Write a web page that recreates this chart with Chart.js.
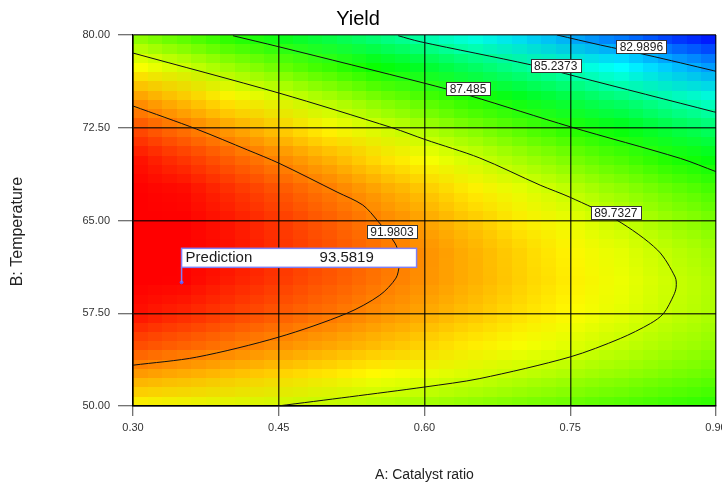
<!DOCTYPE html>
<html>
<head>
<meta charset="utf-8">
<title>Yield</title>
<script src="https://cdn.jsdelivr.net/npm/chart.js@4.4.1/dist/chart.umd.min.js"></script>
<style>
  html, body { margin: 0; padding: 0; background: #fff; }
  #chart { display: block; }
</style>
</head>
<body>
<canvas id="chart" width="722" height="486"></canvas>
<script>
// Model grid axes
const catalystRatio = [0.30, 0.35, 0.40, 0.45, 0.50, 0.55, 0.60, 0.65, 0.70, 0.75, 0.80, 0.85, 0.90];
const temperature = [50, 52.5, 55, 57.5, 60, 62.5, 65, 67.5, 70, 72.5, 75, 77.5, 80];

// Yield, one row per temperature (50 first), columns follow catalystRatio
const yieldRows = [
  [90.36, 90.16, 89.96, 89.75, 89.54, 89.32, 89.10, 88.86, 88.63, 88.39, 88.14, 87.88, 87.63],
  [91.63, 91.39, 91.16, 90.91, 90.66, 90.40, 90.14, 89.87, 89.60, 89.32, 89.04, 88.74, 88.44],
  [92.65, 92.37, 92.10, 91.81, 91.52, 91.23, 90.93, 90.62, 90.31, 90.00, 89.67, 89.34, 89.01],
  [93.41, 93.10, 92.79, 92.46, 92.14, 91.81, 91.47, 91.12, 90.77, 90.42, 90.06, 89.68, 89.32],
  [93.92, 93.57, 93.22, 92.86, 92.49, 92.13, 91.75, 91.36, 90.98, 90.59, 90.19, 89.78, 89.37],
  [94.18, 93.79, 93.40, 93.00, 92.60, 92.19, 91.78, 91.35, 90.93, 90.50, 90.07, 89.62, 89.17],
  [94.18, 93.76, 93.33, 92.89, 92.45, 92.01, 91.56, 91.09, 90.63, 90.16, 89.69, 89.20, 88.72],
  [93.93, 93.47, 93.00, 92.52, 92.05, 91.57, 91.08, 90.57, 90.08, 89.57, 89.06, 88.54, 88.01],
  [93.42, 92.93, 92.42, 91.91, 91.39, 90.87, 90.35, 89.80, 89.27, 88.72, 88.18, 87.61, 87.05],
  [92.67, 92.13, 91.59, 91.03, 90.48, 89.92, 89.36, 88.78, 88.21, 87.62, 87.04, 86.44, 85.84],
  [91.65, 91.08, 90.50, 89.91, 89.32, 88.72, 88.12, 87.50, 86.89, 86.27, 85.65, 85.01, 84.37],
  [90.39, 89.78, 89.16, 88.53, 87.90, 87.27, 86.63, 85.97, 85.32, 84.66, 84.00, 83.33, 82.65],
  [88.87, 88.22, 87.56, 86.90, 86.23, 85.56, 84.88, 84.19, 83.50, 82.80, 82.10, 81.39, 80.67]
];

// Contour lines, [catalyst ratio, temperature] pairs
const contour82 = [[0.7364, 80.0], [0.781, 79.19], [0.829, 78.38], [0.8977, 77.11], [0.90, 77.06]];
const contour85 = [[0.573, 79.94], [0.5954, 79.46], [0.7088, 77.6], [0.7569, 76.63], [0.8977, 73.79], [0.90, 73.75]];
const contour87 = [[0.4029, 79.94], [0.45, 79.05], [0.6005, 76.09], [0.6469, 75.09], [0.75, 72.58], [0.8634, 70.02], [0.90, 68.95]];
const contour89 = [[0.30, 78.54], [0.45, 75.31], [0.5675, 72.48], [0.6005, 71.55], [0.657, 70.05], [0.719, 67.86],
  [0.75, 66.87], [0.798, 65.03], [0.840, 62.60], [0.858, 60.42], [0.859, 59.61], [0.8565, 58.96], [0.846, 57.48],
  [0.8325, 56.67], [0.8015, 55.46], [0.75, 53.97], [0.657, 52.22], [0.6005, 51.54], [0.523, 50.74], [0.449, 50.0]];
const contour91 = [[0.30, 74.26], [0.3655, 72.39], [0.418, 70.70], [0.45, 69.64], [0.51, 67.30], [0.5365, 66.25],
  [0.552, 64.95], [0.5696, 63.17], [0.5737, 62.20], [0.574, 61.39], [0.5706, 60.34], [0.554, 58.96], [0.52, 57.49],
  [0.45, 55.57], [0.3655, 53.95], [0.30, 53.30]];

const contourLabels = ['82.9896', '85.2373', '87.485', '89.7327', '91.9803'];
const labelRatio = [0.8232, 0.735, 0.6448, 0.7969, 0.5665];
const labelTemp = [79.03, 77.49, 75.67, 65.60, 64.06];

const predictionPoint = [0.35, 60];
const predictionValue = '93.5819';

const xTicks = [0.30, 0.45, 0.60, 0.75, 0.90];
const yTicks = [50, 57.5, 65, 72.5, 80];

const family = "'Liberation Sans', Arial, sans-serif";

// blue -> cyan -> green -> yellow -> red, spread over this yield range
const colourRange = [80.8, 93.6];
const colourStops = [[0, 0, 255], [0, 255, 255], [0, 255, 0], [255, 255, 0], [255, 0, 0]];
function colourFor(v) {
  let f = (v - colourRange[0]) / (colourRange[1] - colourRange[0]);
  f = Math.max(0, Math.min(1, f)) * (colourStops.length - 1);
  const k = Math.min(Math.floor(f), colourStops.length - 2);
  const t = f - k;
  const a = colourStops[k], b = colourStops[k + 1];
  return [0, 1, 2].map(c => Math.round(a[c] + (b[c] - a[c]) * t));
}

const heatmapPlugin = {
  id: 'heatmap',
  beforeDraw(chart) {
    const { ctx, scales: { x, y } } = chart;
    const cols = catalystRatio.length, rows = temperature.length;

    const src = document.createElement('canvas');
    src.width = cols; src.height = rows;
    const sctx = src.getContext('2d');
    const img = sctx.createImageData(cols, rows);
    for (let j = 0; j < rows; j++) {
      for (let i = 0; i < cols; i++) {
        const c = colourFor(yieldRows[j][i]);
        const p = ((rows - 1 - j) * cols + i) * 4;
        img.data[p] = c[0]; img.data[p + 1] = c[1]; img.data[p + 2] = c[2]; img.data[p + 3] = 255;
      }
    }
    sctx.putImageData(img, 0, 0);

    // blocky 40x40 cells like the original
    const cells = document.createElement('canvas');
    cells.width = 40; cells.height = 40;
    const cctx = cells.getContext('2d');
    cctx.imageSmoothingEnabled = true;
    cctx.drawImage(src, 0.5, 0.5, cols - 1, rows - 1, 0, 0, 40, 40);

    const left = x.getPixelForValue(catalystRatio[0]);
    const right = x.getPixelForValue(catalystRatio[cols - 1]);
    const top = y.getPixelForValue(temperature[rows - 1]);
    const bottom = y.getPixelForValue(temperature[0]);
    ctx.save();
    ctx.imageSmoothingEnabled = false;
    ctx.drawImage(cells, left, top, right - left, bottom - top);
    ctx.restore();
  },
  afterDatasetsDraw(chart) {
    const { ctx, scales: { x, y } } = chart;
    ctx.save();
    // contour value labels
    ctx.font = '12px ' + family;
    ctx.textAlign = 'center';
    ctx.textBaseline = 'middle';
    contourLabels.forEach((txt, i) => {
      const px = x.getPixelForValue(labelRatio[i]);
      const py = y.getPixelForValue(labelTemp[i]);
      const w = Math.round(ctx.measureText(txt).width + 7);
      const bx = Math.round(px - w / 2), by = Math.round(py - 7);
      ctx.fillStyle = '#fff';
      ctx.fillRect(bx, by, w, 14);
      ctx.strokeStyle = '#333';
      ctx.lineWidth = 1;
      ctx.strokeRect(bx + 0.5, by + 0.5, w, 13);
      ctx.fillStyle = '#222';
      ctx.fillText(txt, px, by + 7.5);
    });

    // prediction flag
    const fx = x.getPixelForValue(predictionPoint[0]);
    const fy = y.getPixelForValue(predictionPoint[1]);
    const boxBottom = fy - 15, boxTop = boxBottom - 19;
    ctx.strokeStyle = '#7f7ff5';
    ctx.lineWidth = 1.5;
    ctx.beginPath();
    ctx.moveTo(fx, fy);
    ctx.lineTo(fx, boxBottom);
    ctx.stroke();
    ctx.fillStyle = '#fff';
    ctx.fillRect(fx, boxTop, 235, 19);
    ctx.strokeRect(fx, boxTop, 235, 19);
    ctx.fillStyle = '#1a1a1a';
    ctx.font = '15px ' + family;
    ctx.textAlign = 'left';
    ctx.fillText('Prediction', fx + 4, boxTop + 10);
    ctx.fillText(predictionValue, fx + 138, boxTop + 10);
    ctx.restore();
  },
  afterDraw(chart) {
    // y axis title sits a little below the axis centre in the original
    const { ctx, scales: { y } } = chart;
    ctx.save();
    ctx.translate(18, y.getPixelForValue(64.1));
    ctx.rotate(-Math.PI / 2);
    ctx.font = '16px ' + family;
    ctx.fillStyle = '#222';
    ctx.textAlign = 'center';
    ctx.textBaseline = 'middle';
    ctx.fillText('B: Temperature', 0, 0);
    ctx.restore();
  }
};

const toXY = pts => pts.map(p => ({ x: p[0], y: p[1] }));
const contourSet = pts => ({
  data: toXY(pts),
  showLine: true,
  borderColor: '#111',
  borderWidth: 1,
  pointRadius: 0,
  tension: 0.3
});

new Chart(document.getElementById('chart'), {
  type: 'scatter',
  data: {
    datasets: [
      contourSet(contour82),
      contourSet(contour85),
      contourSet(contour87),
      contourSet(contour89),
      contourSet(contour91),
      {
        data: [{ x: predictionPoint[0], y: predictionPoint[1] }],
        pointRadius: 1.5,
        pointBackgroundColor: '#5a5aff',
        pointBorderColor: '#5a5aff'
      }
    ]
  },
  options: {
    responsive: false,
    animation: false,
    layout: { padding: { left: 0, right: 6, top: 0, bottom: 0 } },
    plugins: {
      legend: { display: false },
      tooltip: { enabled: false },
      title: {
        display: true,
        text: 'Yield',
        color: '#000',
        font: { size: 20, family: family, weight: 'normal' },
        padding: { top: 7, bottom: 4 }
      }
    },
    scales: {
      x: {
        type: 'linear',
        min: 0.3,
        max: 0.9,
        afterBuildTicks: s => { s.ticks = xTicks.map(v => ({ value: v })); },
        afterFit: s => { s.height = 80; s.paddingLeft = 0; s.paddingRight = 0; },
        ticks: {
          callback: v => v.toFixed(2),
          color: '#333',
          font: { size: 11, family: family },
          padding: 5,
          maxRotation: 0,
          autoSkip: false
        },
        grid: { color: 'rgba(0,0,0,0.72)', lineWidth: 1.5, tickLength: 10, tickColor: '#444', tickWidth: 1 },
        border: { display: true, color: '#000', width: 1.5 },
        title: {
          display: true,
          text: 'A: Catalyst ratio',
          color: '#222',
          font: { size: 14, family: family },
          padding: { top: 0, bottom: 2 }
        }
      },
      y: {
        type: 'linear',
        min: 50,
        max: 80,
        afterBuildTicks: s => { s.ticks = yTicks.map(v => ({ value: v })); },
        afterFit: s => { s.width = 133; },
        ticks: {
          callback: v => v.toFixed(2),
          color: '#333',
          font: { size: 11, family: family },
          padding: 8,
          autoSkip: false
        },
        grid: { color: 'rgba(0,0,0,0.72)', lineWidth: 1.5, tickLength: 15, tickColor: '#444', tickWidth: 1 },
        border: { display: true, color: '#000', width: 1.5 }
      }
    }
  },
  plugins: [heatmapPlugin]
});
</script>
</body>
</html>
